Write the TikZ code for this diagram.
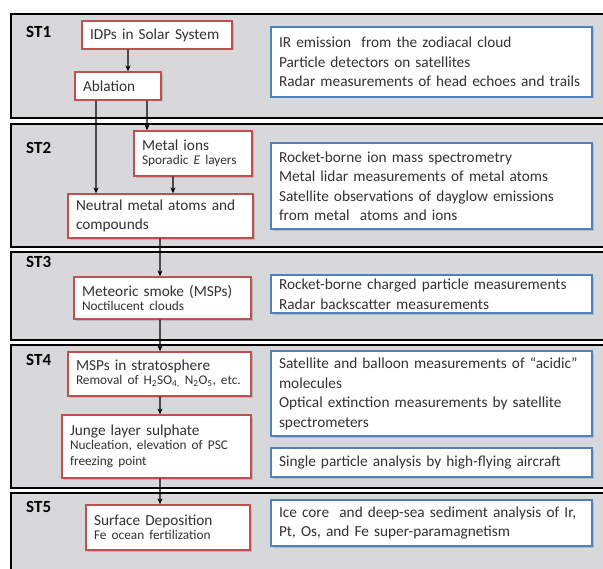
\documentclass[tikz,border=0pt]{standalone}
\usepackage{fontspec}
\setmainfont{Carlito}
\usetikzlibrary{arrows.meta,shadows}
\definecolor{bandgray}{RGB}{216,216,218}
\definecolor{redline}{RGB}{192,80,77}
\definecolor{blueline}{RGB}{79,129,189}
\definecolor{txt}{RGB}{50,50,50}
\newcommand{\mainsz}{\fontsize{15.3bp}{19.5bp}\selectfont}
\newcommand{\smallsz}{\fontsize{13.3bp}{16bp}\selectfont}
\begin{document}
\begin{tikzpicture}[x=1bp,y=-1bp,
  band/.style={draw=black,line width=1.8bp,fill=bandgray},
  stlabel/.style={font=\fontsize{17bp}{20bp}\selectfont\bfseries,text=black,inner sep=0pt},
  boxbase/.style={fill=white,line width=1.3bp,inner xsep=8bp,inner ysep=2bp,align=left,text=txt,font=\mainsz,
    drop shadow={opacity=0.35,shadow xshift=1.5bp,shadow yshift=-1.5bp}},
  redbox/.style={boxbase,draw=redline},
  bluebox/.style={boxbase,draw=blueline,text width=305bp,minimum height=#1},
  arr/.style={-{Stealth[length=6bp,width=5bp]},line width=1.1bp,black}]
\useasboundingbox (0,0) rectangle (603,569);
% bands
\draw[band] (11,14) rectangle (620,118);
\draw[band] (11,124) rectangle (620,247);
\draw[band] (11,252) rectangle (620,340);
\draw[band] (11,345) rectangle (620,488);
\draw[band] (11,493) rectangle (620,590);
% labels
\node[stlabel,anchor=west] (st1) at (26,32) {ST1};
\node[stlabel,anchor=west] (st2) at (26,148) {ST2};
\node[stlabel,anchor=west] (st3) at (26,262) {ST3};
\node[stlabel,anchor=west] (st4) at (26,360) {ST4};
\node[stlabel,anchor=west] (st5) at (26,507) {ST5};
% red boxes
\node[redbox,text width=134bp,minimum height=28bp] (idp) at (157,35) {\mbox{IDPs in Solar System}};
\node[redbox,text width=70bp,minimum height=28bp] (abl) at (118,86) {Ablation};
\node[redbox,text width=102bp,minimum height=45bp] (ion) at (193,153.5) {Metal ions\\[-2bp]{\smallsz \mbox{Sporadic \textit{E} layers}\par}};
\node[redbox,text width=169bp,minimum height=44bp] (neu) at (160.5,216) {\mbox{Neutral metal atoms and}\\compounds};
\node[redbox,text width=161bp,minimum height=42bp] (met) at (162.5,298) {\mbox{Meteoric smoke (MSPs)}\\[-2bp]{\smallsz Noctilucent clouds\par}};
\node[redbox,text width=167bp,minimum height=44bp] (msp) at (159.5,374) {MSPs in stratosphere\\[-2bp]{\smallsz \mbox{Removal of H\textsubscript{2}SO\textsubscript{4,} N\textsubscript{2}O\textsubscript{5}, etc.}\par}};
\node[redbox,text width=173bp,minimum height=63bp] (jun) at (156.5,446.5) {Junge layer sulphate\\[-2bp]{\smallsz \mbox{Nucleation, elevation of PSC}\\freezing point\par}};
\node[redbox,text width=148bp,minimum height=45bp] (sur) at (168,527.5) {Surface Deposition\\[-2bp]{\smallsz \mbox{Fe ocean fertilization}\par}};
% blue boxes
\node[bluebox=70bp] (b1) at (431.5,62) {IR emission \ from the zodiacal cloud\\Particle detectors on satellites\\\mbox{Radar measurements of head echoes and trails}};
\node[bluebox=86bp] (b2) at (431.5,186) {Rocket-borne ion mass spectrometry\\Metal lidar measurements of metal atoms\\\mbox{Satellite observations of dayglow emissions}\\from metal \ atoms and ions};
\node[bluebox=38bp] (b3) at (431.5,294) {\mbox{Rocket-borne charged particle measurements}\\Radar backscatter measurements};
\node[bluebox=85bp] (b4) at (431.5,393.5) {\mbox{Satellite and balloon measurements of “acidic”}\\molecules\\\mbox{Optical extinction measurements by satellite}\\spectrometers};
\node[bluebox=29bp] (b5) at (431.5,462.5) {\mbox{Single particle analysis by high-flying aircraft}};
\node[bluebox=46bp] (b6) at (431.5,523) {\mbox{Ice core \ and deep-sea sediment analysis of Ir,}\\Pt, Os, and Fe super-paramagnetism};
% arrows
\draw[arr] ([xshift=-29bp]idp.south) -- ([xshift=10bp]abl.north);
\draw[arr] ([xshift=-22bp]abl.south) -- ([xshift=-64.5bp]neu.north);
\draw[arr] ([xshift=29bp]abl.south) -- ([xshift=-46bp]ion.north);
\draw[arr] ([xshift=-20bp]ion.south) -- ([xshift=12.5bp]neu.north);
\draw[arr] ([xshift=-0.5bp]neu.south) -- ([xshift=-2.5bp]met.north);
\draw[arr] ([xshift=-2.5bp]met.south) -- ([xshift=0.5bp]msp.north);
\draw[arr] ([xshift=0.5bp]msp.south) -- ([xshift=3.5bp]jun.north);
\draw[arr] ([xshift=3.5bp]jun.south) -- ([xshift=-8bp]sur.north);
\end{tikzpicture}
\end{document}
